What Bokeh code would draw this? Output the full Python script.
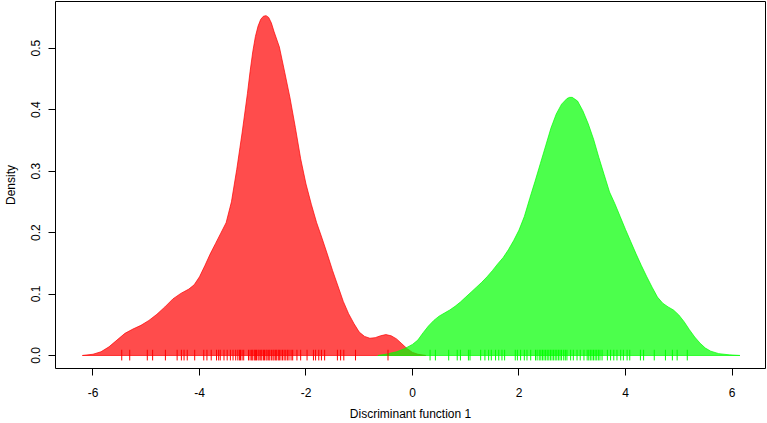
from bokeh.plotting import figure
from bokeh.models import Range1d, FixedTicker, NumeralTickFormatter
from bokeh.embed import file_html
from bokeh.resources import INLINE

# Density curve of group 1 (red)
red_x = [-6.20, -6.00, -5.85, -5.70, -5.55, -5.40, -5.25, -5.10, -4.95, -4.80,
         -4.65, -4.50, -4.35, -4.20, -4.10, -4.00, -3.90, -3.80, -3.70, -3.60,
         -3.50, -3.40, -3.30, -3.20, -3.10, -3.05, -3.00, -2.95, -2.90, -2.85,
         -2.80, -2.75, -2.70, -2.65, -2.60, -2.50, -2.40, -2.30, -2.20, -2.10,
         -2.00, -1.90, -1.80, -1.70, -1.60, -1.50, -1.40, -1.30, -1.20, -1.10,
         -1.00, -0.90, -0.80, -0.70, -0.60, -0.50, -0.40, -0.30, -0.20, -0.10,
         0.00, 0.10, 0.25]
red_y = [0.000, 0.002, 0.006, 0.014, 0.025, 0.036, 0.043, 0.049, 0.057, 0.067,
         0.079, 0.092, 0.101, 0.108, 0.115, 0.128, 0.146, 0.165, 0.182, 0.199,
         0.216, 0.250, 0.303, 0.362, 0.426, 0.462, 0.494, 0.519, 0.536, 0.547,
         0.552, 0.553, 0.550, 0.541, 0.527, 0.502, 0.461, 0.419, 0.371, 0.320,
         0.279, 0.246, 0.216, 0.191, 0.165, 0.138, 0.113, 0.088, 0.068, 0.052,
         0.038, 0.031, 0.028, 0.029, 0.032, 0.034, 0.032, 0.027, 0.019, 0.011,
         0.005, 0.002, 0.000]

# Density curve of group 2 (green)
green_x = [-0.65, -0.50, -0.30, -0.15, 0.00, 0.10, 0.20, 0.30, 0.40, 0.50,
           0.60, 0.70, 0.80, 0.90, 1.00, 1.10, 1.20, 1.30, 1.40, 1.50,
           1.60, 1.70, 1.80, 1.90, 2.00, 2.10, 2.20, 2.30, 2.40, 2.50,
           2.60, 2.70, 2.80, 2.90, 2.95, 3.00, 3.10, 3.20, 3.30, 3.40,
           3.50, 3.60, 3.70, 3.80, 3.90, 4.00, 4.10, 4.20, 4.30, 4.40,
           4.50, 4.60, 4.70, 4.80, 4.90, 5.00, 5.10, 5.20, 5.30, 5.40,
           5.50, 5.60, 5.75, 5.95, 6.15]
green_y = [0.000, 0.002, 0.006, 0.011, 0.018, 0.025, 0.037, 0.048, 0.057, 0.064,
           0.069, 0.074, 0.080, 0.087, 0.095, 0.103, 0.111, 0.119, 0.128, 0.138,
           0.149, 0.159, 0.172, 0.187, 0.204, 0.226, 0.255, 0.283, 0.312, 0.341,
           0.370, 0.393, 0.409, 0.418, 0.420, 0.420, 0.414, 0.398, 0.377, 0.352,
           0.322, 0.294, 0.266, 0.247, 0.226, 0.205, 0.185, 0.165, 0.146, 0.128,
           0.111, 0.095, 0.085, 0.079, 0.074, 0.066, 0.055, 0.042, 0.030, 0.020,
           0.012, 0.007, 0.003, 0.001, 0.000]

# Rug values (individual scores)
red_rug = [-5.46, -5.31, -4.98, -4.88, -4.64, -4.42, -4.34, -4.29, -4.23, -4.09,
           -3.92, -3.86, -3.78, -3.68, -3.64, -3.61, -3.54, -3.48, -3.42, -3.37,
           -3.32, -3.28, -3.25, -3.23, -3.20, -3.17, -3.08, -3.05, -3.02, -3.00,
           -2.97, -2.95, -2.93, -2.90, -2.88, -2.85, -2.83, -2.80, -2.78, -2.75,
           -2.73, -2.70, -2.68, -2.65, -2.62, -2.60, -2.57, -2.55, -2.52, -2.50,
           -2.47, -2.44, -2.41, -2.38, -2.35, -2.32, -2.28, -2.25, -2.17, -2.10,
           -1.98, -1.86, -1.82, -1.76, -1.71, -1.65, -1.41, -1.35, -1.29, -1.07,
           -0.46]
green_rug = [0.33, 0.43, 0.68, 0.84, 0.90, 1.05, 1.08, 1.28, 1.36, 1.43,
             1.48, 1.56, 1.62, 1.68, 1.73, 1.93, 1.97, 2.03, 2.10, 2.15,
             2.22, 2.31, 2.34, 2.38, 2.41, 2.44, 2.47, 2.50, 2.53, 2.56,
             2.59, 2.62, 2.65, 2.68, 2.71, 2.74, 2.77, 2.80, 2.84, 2.87,
             2.90, 2.97, 3.02, 3.09, 3.15, 3.22, 3.28, 3.31, 3.34, 3.37,
             3.40, 3.43, 3.46, 3.49, 3.52, 3.56, 3.66, 3.72, 3.78, 3.84,
             3.91, 3.96, 4.03, 4.08, 4.28, 4.34, 4.54, 4.75, 4.88, 4.97,
             5.16]

x_ticks = [-6, -4, -2, 0, 2, 4, 6]
y_ticks = [0.0, 0.1, 0.2, 0.3, 0.4, 0.5]
x_title = "Discriminant function 1"
y_title = "Density"

FONT = "Liberation Sans"

p = figure(width=767, height=423, output_backend="svg", toolbar_location=None,
           x_range=Range1d(-6.704, 6.629), y_range=Range1d(-0.0212, 0.576),
           min_border_left=55, min_border_right=2, min_border_top=1,
           min_border_bottom=55,
           background_fill_color="white", border_fill_color="white")

p.grid.visible = False
p.outline_line_color = "black"
p.outline_line_width = 1

p.patch(red_x, red_y, fill_color="#FF0000", fill_alpha=0.7,
        line_color="#FF0000", line_alpha=0.7, line_width=1)
p.patch(green_x, green_y, fill_color="#00FF00", fill_alpha=0.7,
        line_color="#00FF00", line_alpha=0.7, line_width=1)

rug_lo, rug_hi = -0.0081, 0.0093
p.segment(x0=red_rug, y0=[rug_lo] * len(red_rug), x1=red_rug,
          y1=[rug_hi] * len(red_rug), line_color="#FF0000", line_width=1)
p.segment(x0=green_rug, y0=[rug_lo] * len(green_rug), x1=green_rug,
          y1=[rug_hi] * len(green_rug), line_color="#00FF00", line_width=1)

for ax in (p.xaxis[0], p.yaxis[0]):
    ax.axis_line_color = None
    ax.major_tick_out = 7
    ax.major_tick_in = 0
    ax.minor_tick_line_color = None
    ax.major_tick_line_color = "black"
    ax.major_label_text_font = FONT
    ax.major_label_text_font_size = "12px"
    ax.major_label_text_color = "black"
    ax.axis_label_text_font = FONT
    ax.axis_label_text_font_size = "12px"
    ax.axis_label_text_font_style = "normal"
    ax.axis_label_text_color = "black"

p.xaxis.ticker = FixedTicker(ticks=x_ticks)
p.xaxis.formatter = NumeralTickFormatter(format="0")
p.xaxis.axis_label = x_title
p.xaxis.major_label_standoff = 12
p.xaxis.axis_label_standoff = 7

p.yaxis.ticker = FixedTicker(ticks=y_ticks)
p.yaxis.formatter = NumeralTickFormatter(format="0.0")
p.yaxis.axis_label = y_title
p.yaxis.major_label_orientation = "vertical"
p.yaxis.major_label_standoff = 8
p.yaxis.axis_label_standoff = 11

open("out.html", "w").write(file_html(p, INLINE))
